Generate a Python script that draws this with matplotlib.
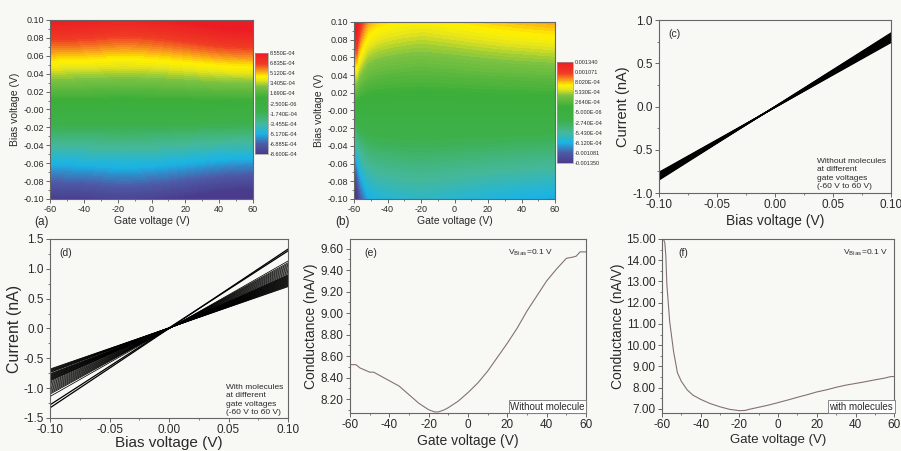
import numpy as np
import matplotlib
matplotlib.use('Agg')
import matplotlib.pyplot as plt
from matplotlib.colors import LinearSegmentedColormap, Normalize
from matplotlib.cm import ScalarMappable
from matplotlib.ticker import MultipleLocator, FormatStrFormatter

plt.rcParams['font.family'] = ['Liberation Sans', 'DejaVu Sans']
plt.rcParams['axes.unicode_minus'] = False

# ---------------- data ----------------
# (e) conductance without molecules (nA/V) vs gate voltage (V)
e_gate = [-60, -57, -55, -50, -48, -45, -40, -35, -30, -25, -20, -17, -15, -12, -10,
          -5, 0, 5, 10, 15, 20, 25, 30, 35, 40, 45, 50, 53, 55, 57, 60]
e_cond = [8.52, 8.52, 8.49, 8.45, 8.45, 8.42, 8.37, 8.32, 8.24, 8.16, 8.10, 8.08, 8.08, 8.10, 8.12,
          8.18, 8.26, 8.35, 8.46, 8.59, 8.72, 8.86, 9.02, 9.16, 9.30, 9.41, 9.51, 9.52, 9.53, 9.57, 9.57]

# (f) conductance with molecules (nA/V) vs gate voltage (V)
f_gate = [-60, -59, -58.5, -58, -57.5, -57, -56, -55, -54, -53, -52, -50, -47, -44, -40,
          -35, -30, -25, -20, -17, -15, -10, -5, 0, 5, 10, 15, 20, 25, 30, 35, 40, 45, 50, 55, 58, 60]
f_cond = [15.0, 14.95, 14.8, 14.2, 12.9, 12.3, 11.1, 10.4, 9.7, 9.2, 8.7, 8.3, 7.9, 7.65, 7.45,
          7.25, 7.1, 6.98, 6.92, 6.93, 6.98, 7.08, 7.18, 7.30, 7.42, 7.55, 7.67, 7.80, 7.90, 8.02, 8.12,
          8.20, 8.28, 8.37, 8.45, 8.52, 8.53]

# bias voltage grid for the maps (V)
bias_v = [-0.10, -0.08, -0.06, -0.04, -0.02, 0.00, 0.02, 0.04, 0.06, 0.08, 0.10]

a_cbar_vals = [8.55e-4, 6.835e-4, 5.12e-4, 3.405e-4, 1.69e-4, -2.5e-6, -1.74e-4, -3.455e-4, -5.17e-4, -6.885e-4, -8.6e-4]
a_cbar_labels = ['8.550E-04', '6.835E-04', '5.120E-04', '3.405E-04', '1.690E-04', '-2.500E-06',
                 '-1.740E-04', '-3.455E-04', '-5.170E-04', '-6.885E-04', '-8.600E-04']
b_cbar_vals = [1.34e-3, 1.071e-3, 8.02e-4, 5.33e-4, 2.64e-4, -5e-6, -2.74e-4, -5.43e-4, -8.12e-4, -1.081e-3, -1.35e-3]
b_cbar_labels = ['0.001340', '0.001071', '8.020E-04', '5.330E-04', '2.640E-04', '-5.000E-06',
                 '-2.740E-04', '-5.430E-04', '-8.120E-04', '-0.001081', '-0.001350']

# (c) I-V lines without molecules: current (nA) at -0.1 V and +0.1 V
c_i_neg = [-0.76, -0.77, -0.78, -0.785, -0.79, -0.80, -0.81, -0.82, -0.83, -0.835, -0.84, -0.85]
c_i_pos = [0.74, 0.75, 0.76, 0.77, 0.78, 0.79, 0.80, 0.81, 0.82, 0.83, 0.84, 0.85]

# (d) I-V lines with molecules: current (nA) at -0.1 V and +0.1 V
d_i_neg = [-0.68, -0.69, -0.70, -0.71, -0.72, -0.73, -0.74, -0.76, -0.77, -0.78, -0.79, -0.80, -0.81,
           -0.82, -0.83, -0.84, -0.85, -0.86, -0.87, -0.88, -0.90,
           -0.92, -0.94, -0.96, -0.98, -1.00, -1.02, -1.04, -1.06, -1.08, -1.10, -1.14,
           -1.28, -1.33]
d_i_pos = [0.70, 0.71, 0.72, 0.73, 0.74, 0.75, 0.76, 0.77, 0.78, 0.79, 0.80, 0.81, 0.82,
           0.83, 0.84, 0.85, 0.86, 0.87, 0.88, 0.89, 0.90,
           0.92, 0.94, 0.96, 0.98, 1.00, 1.02, 1.04, 1.06, 1.08, 1.10, 1.13,
           1.30, 1.33]
bias_ends = [-0.10, 0.10]

# ---------------- style ----------------
BG = '#f8f8f5'
SPINE = '#666666'
TXT = '#2a2a2a'

cmap = LinearSegmentedColormap.from_list('origin_rainbow', [
    (0.00, '#4a3b8c'), (0.10, '#4d5ba6'), (0.20, '#1ab4e6'), (0.30, '#45b89c'),
    (0.42, '#3db04a'), (0.56, '#3cae3a'), (0.67, '#7cc242'), (0.73, '#e6e41c'),
    (0.77, '#fff200'), (0.83, '#f7941d'), (0.89, '#ef3b24'), (1.00, '#ed1c24')])

fig = plt.figure(figsize=(9.01, 4.51), dpi=100, facecolor=BG)


def style(ax, tick_fs, xmaj, xmin, ymaj, ymin, yfmt, xfmt):
    ax.set_facecolor(BG)
    for s in ax.spines.values():
        s.set_color(SPINE)
        s.set_linewidth(0.8)
    ax.xaxis.set_major_locator(MultipleLocator(xmaj))
    ax.xaxis.set_minor_locator(MultipleLocator(xmin))
    ax.yaxis.set_major_locator(MultipleLocator(ymaj))
    ax.yaxis.set_minor_locator(MultipleLocator(ymin))
    ax.yaxis.set_major_formatter(FormatStrFormatter(yfmt))
    if xfmt:
        ax.xaxis.set_major_formatter(FormatStrFormatter(xfmt))
    ax.tick_params(which='major', direction='out', length=3, width=0.7, color=SPINE,
                   labelsize=tick_fs, labelcolor=TXT, pad=1.5)
    ax.tick_params(which='minor', direction='out', length=1.5, width=0.6, color=SPINE)


def draw_map(rect, crect, cond, gate, vmin, vmax, cvals, clabels, letter, lpos):
    ax = fig.add_axes(rect)
    G = np.array(cond) * 1e-3
    B = np.array(bias_v)
    Z = np.outer(B, G)
    norm = Normalize(vmin=vmin, vmax=vmax)
    levels = np.linspace(vmin, vmax, 90)
    ax.contourf(gate, bias_v, Z, levels=levels, cmap=cmap, norm=norm, extend='both')
    ax.set_xlim(-60, 60)
    ax.set_ylim(-0.1, 0.1)
    style(ax, 6.5, 20, 10, 0.02, 0.01, '%.2f', None)
    ax.set_xlabel('Gate voltage (V)', fontsize=7.5, color=TXT, labelpad=1)
    ax.set_ylabel('Bias voltage (V)', fontsize=7.5, color=TXT, labelpad=2)
    fig.text(lpos[0], lpos[1], letter, fontsize=8.5, color=TXT)
    cax = fig.add_axes(crect)
    sm = ScalarMappable(norm=norm, cmap=cmap)
    cb = fig.colorbar(sm, cax=cax)
    cb.outline.set_edgecolor('#999999')
    cb.outline.set_linewidth(0.5)
    cb.set_ticks(cvals)
    cb.set_ticklabels(clabels)
    cax.tick_params(length=0, labelsize=4, pad=1.5, labelcolor=TXT)


# (a)
draw_map([0.0555, 0.5588, 0.2253, 0.397], [0.283, 0.6585, 0.0144, 0.224],
         e_cond, e_gate, -8.6e-4, 8.55e-4, a_cbar_vals, a_cbar_labels, '(a)', (0.038, 0.500))
# (b)
draw_map([0.3929, 0.5588, 0.2231, 0.3925], [0.6182, 0.6386, 0.0178, 0.224],
         f_cond, f_gate, -1.35e-3, 1.34e-3, b_cbar_vals, b_cbar_labels, '(b)', (0.372, 0.500))

# (c)
axc = fig.add_axes([0.7314, 0.572, 0.2575, 0.3836])
for n, p in zip(c_i_neg, c_i_pos):
    axc.plot(bias_ends, [n, p], color='black', lw=0.9)
axc.set_xlim(-0.1, 0.1)
axc.set_ylim(-1.0, 1.0)
style(axc, 8.5, 0.05, 0.025, 0.5, 0.25, '%.1f', '%.2f')
axc.set_xlabel('Bias voltage (V)', fontsize=10, color=TXT, labelpad=2)
axc.set_ylabel('Current (nA)', fontsize=10.5, color=TXT, labelpad=2)
axc.text(0.04, 0.95, '(c)', transform=axc.transAxes, fontsize=7.5, color=TXT, va='top')
axc.text(0.68, 0.015, 'Without molecules\nat different\ngate voltages\n(-60 V to 60 V)',
         transform=axc.transAxes, fontsize=6, color=TXT, va='bottom', ha='left', linespacing=1.3)

# (d)
axd = fig.add_axes([0.0555, 0.0732, 0.2642, 0.397])
for i, (n, p) in enumerate(zip(d_i_neg, d_i_pos)):
    axd.plot(bias_ends, [n, p], color='black', lw=(0.9 if i >= len(d_i_pos) - 2 else 0.55))
axd.set_xlim(-0.1, 0.1)
axd.set_ylim(-1.5, 1.5)
style(axd, 8.5, 0.05, 0.025, 0.5, 0.25, '%.1f', '%.2f')
axd.set_xlabel('Bias voltage (V)', fontsize=11, color=TXT, labelpad=0)
axd.set_ylabel('Current (nA)', fontsize=11.5, color=TXT, labelpad=1)
axd.text(0.04, 0.95, '(d)', transform=axd.transAxes, fontsize=7.5, color=TXT, va='top')
axd.text(0.74, 0.01, 'With molecules\nat different\ngate voltages\n(-60 V to 60 V)',
         transform=axd.transAxes, fontsize=6, color=TXT, va='bottom', ha='left', linespacing=1.3)

# (e)
axe = fig.add_axes([0.3885, 0.0843, 0.2619, 0.3858])
axe.plot(e_gate, e_cond, color='#847272', lw=0.8)
axe.set_xlim(-60, 60)
axe.set_ylim(8.07, 9.69)
style(axe, 8.5, 20, 10, 0.2, 0.1, '%.2f', None)
axe.set_xlabel('Gate voltage (V)', fontsize=10, color=TXT, labelpad=2)
axe.set_ylabel('Conductance (nA/V)', fontsize=10, color=TXT, labelpad=2)
axe.text(0.06, 0.95, '(e)', transform=axe.transAxes, fontsize=7.5, color=TXT, va='top')
axe.text(0.67, 0.95, r'V$_{\rm Bias}$=0.1 V', transform=axe.transAxes, fontsize=6, color=TXT, va='top')
axe.text(0.995, 0.008, 'Without molecule', transform=axe.transAxes, fontsize=7, color=TXT,
         ha='right', va='bottom',
         bbox=dict(boxstyle='square,pad=0.15', fc='white', ec='#777777', lw=0.6))

# (f)
axf = fig.add_axes([0.7347, 0.0843, 0.2578, 0.3858])
axf.plot(f_gate, f_cond, color='#847272', lw=0.8)
axf.set_xlim(-60, 60)
axf.set_ylim(6.81, 15.0)
style(axf, 8.5, 20, 10, 1.0, 0.5, '%.2f', None)
axf.set_xlabel('Gate voltage (V)', fontsize=9.5, color=TXT, labelpad=2)
axf.set_ylabel('Conductance (nA/V)', fontsize=10, color=TXT, labelpad=1)
axf.text(0.07, 0.95, '(f)', transform=axf.transAxes, fontsize=7.5, color=TXT, va='top')
axf.text(0.78, 0.95, r'V$_{\rm Bias}$=0.1 V', transform=axf.transAxes, fontsize=6, color=TXT, va='top')
axf.text(0.995, 0.008, 'with molecules', transform=axf.transAxes, fontsize=7, color=TXT,
         ha='right', va='bottom',
         bbox=dict(boxstyle='square,pad=0.15', fc='white', ec='#777777', lw=0.6))

fig.savefig('out.png', dpi=100, facecolor=BG)
